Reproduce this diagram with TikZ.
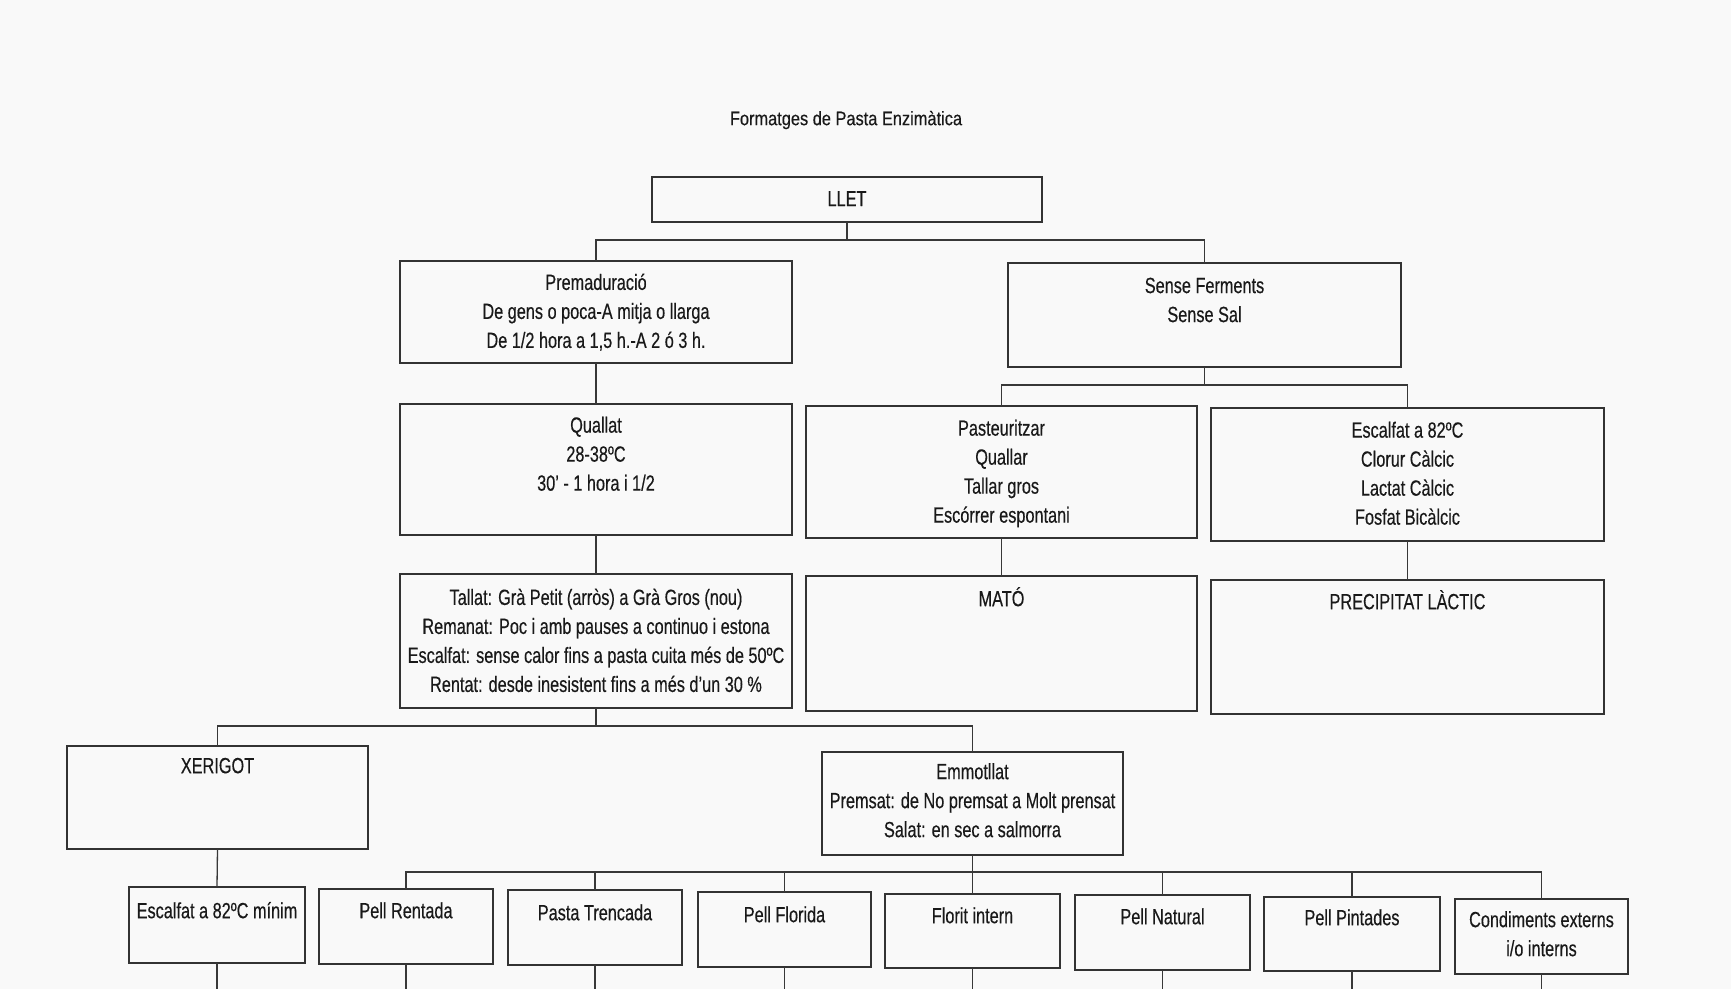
\documentclass[tikz,border=0pt]{standalone}
\usepackage{fontspec}
\setmainfont[FakeStretch=0.74,FakeBold=0.35]{Liberation Sans}
\newfontfamily\titlefont[FakeStretch=0.84,FakeBold=0.3]{Liberation Sans}
\newcommand\bx[7]{%
  \node[box, minimum width={(#4-#2)*1pt}, minimum height={(#5-#3)*1pt}] (#1) at (#2,#3) {};
  \node[txt] (#1t) at ([yshift=-#6pt]#1.north) {#7};}
\begin{document}
\begin{tikzpicture}[x=1pt,y=-1pt,
  box/.style={draw=black!80, line width=1.6pt, rectangle, inner sep=0pt, outer sep=0pt, anchor=north west},
  txt/.style={font=\fontsize{22}{29}\selectfont, align=center, text=black!90, inner sep=0pt, anchor=north,
    execute at begin node={\rule{0pt}{21pt}}},
  ln/.style={draw=black!78, line width=1.3pt}]
\fill[gray!5] (0,0) rectangle (1731,989);
\useasboundingbox (0,0) rectangle (1731,989);

\node[font=\titlefont\fontsize{19.5}{23}\selectfont, text=black!90, inner sep=0pt] (title) at (846,120) {Formatges de Pasta Enzimàtica};

\bx{llet}{652}{177}{1042}{222}{8}{LLET}
\bx{prem}{400}{261}{792}{363}{12.5}{Premaduració\\De gens o poca-A mitja o llarga\\De 1/2 hora a 1,5 h.-A 2 ó 3 h.}
\bx{sense}{1008}{263}{1401}{367}{14.5}{Sense Ferments\\Sense Sal}
\bx{quallat}{400}{404}{792}{535}{12.5}{Quallat\\28-38ºC\\30' - 1 hora i 1/2}
\bx{past}{806}{406}{1197}{538}{13.5}{Pasteuritzar\\Quallar\\Tallar gros\\Escórrer espontani}
\bx{esc}{1211}{408}{1604}{541}{13.5}{Escalfat a 82ºC\\Clorur Càlcic\\Lactat Càlcic\\Fosfat Bicàlcic}
\bx{tallat}{400}{574}{792}{708}{14.5}{Tallat: Grà Petit (arròs) a Grà Gros (nou)\\Remanat: Poc i amb pauses a continuo i estona\\Escalfat: sense calor fins a pasta cuita més de 50ºC\\Rentat: desde inesistent fins a més d'un 30 \%}
\bx{mato}{806}{576}{1197}{711}{9}{MATÓ}
\bx{prec}{1211}{580}{1604}{714}{8}{PRECIPITAT LÀCTIC}
\bx{xer}{67}{746}{368}{849}{6}{XERIGOT}
\bx{emm}{822}{752}{1123}{855}{11}{Emmotllat\\Premsat: de No premsat a Molt prensat\\Salat: en sec a salmorra}
\bx{b1}{129}{887}{305}{963}{10}{Escalfat a 82ºC mínim}
\bx{b2}{319}{889}{493}{964}{8}{Pell Rentada}
\bx{b3}{508}{890}{682}{965}{9}{Pasta Trencada}
\bx{b4}{698}{892}{871}{967}{9}{Pell Florida}
\bx{b5}{885}{894}{1060}{968}{8}{Florit intern}
\bx{b6}{1075}{895}{1250}{970}{8}{Pell Natural}
\bx{b7}{1264}{897}{1440}{971}{7}{Pell Pintades}
\bx{b8}{1455}{899}{1628}{974}{12}{Condiments externs\\i/o interns}

\coordinate (busA) at (0,240);
\coordinate (busB) at (0,385);
\coordinate (busC) at (0,726);
\coordinate (busD) at (0,872);
\coordinate (bot) at (0,989);

\draw[ln] (llet.south) -- (llet.south |- busA);
\draw[ln] (prem.north) |- (busA -| sense.north) -- (sense.north);
\draw[ln] (prem.south) -- (quallat.north);
\draw[ln] (quallat.south) -- (tallat.north);
\draw[ln] (sense.south) -- (sense.south |- busB);
\draw[ln] (past.north) |- (busB -| esc.north) -- (esc.north);
\draw[ln] (past.south) -- (mato.north);
\draw[ln] (esc.south) -- (prec.north);
\draw[ln] (tallat.south) -- (tallat.south |- busC);
\draw[ln] (xer.north) |- (busC -| emm.north) -- (emm.north);
\draw[ln] (xer.south) -- (b1.north);
\draw[ln] (emm.south) -- (emm.south |- busD);
\draw[ln] (b2.north) |- (busD -| b8.north) -- (b8.north);
\foreach \i in {3,...,7} \draw[ln] (b\i.north) -- (b\i.north |- busD);
\foreach \i in {1,...,8} \draw[ln] (b\i.south) -- (b\i.south |- bot);
\end{tikzpicture}
\end{document}
